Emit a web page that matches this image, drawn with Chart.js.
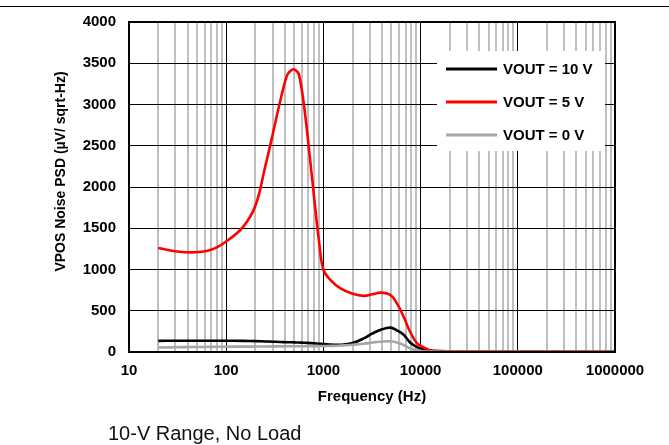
<!DOCTYPE html>
<html>
<head>
<meta charset="utf-8">
<script src="https://cdn.jsdelivr.net/npm/chart.js@4.4.1/dist/chart.umd.min.js"></script>
<style>
    body { margin: 0; background: #fff; }
    #wrap { position: relative; width: 669px; height: 445px; overflow: hidden; }
    #topLine { position: absolute; left: 0; top: 6px; width: 669px; height: 0; border-top: 1.5px solid #000; }
    #caption { position: absolute; left: 108px; top: 423px; font: 20px "Liberation Sans", Arial, sans-serif; line-height: 20px; color: #111; }
    canvas { position: absolute; left: 0; top: 0; }
</style>
</head>
<body>
<div id="wrap">
    <canvas id="noiseChart" width="669" height="445"></canvas>
    <div id="topLine"></div>
    <div id="caption">10-V Range, No Load</div>
</div>
<script>
// frequency points (Hz) and noise values
let freqs  = [20, 30, 46, 70, 100, 150, 200, 250, 300, 360, 420, 455, 490, 525, 560, 630, 730, 810, 900, 1000, 1200, 1500, 2000, 2600, 3200, 3900, 4900, 5700, 6700, 7800, 9200, 10700, 13600, 20000, 50000, 100000, 300000, 1000000];
let vout10 = [135, 136, 137, 137, 137, 135, 132, 128, 125, 122, 118, 118, 117, 116, 115, 112, 108, 105, 100, 97, 90, 87, 108, 165, 225, 270, 295, 262, 210, 115, 58, 33, 14, 7, 5, 5, 4, 4];
let vout5  = [1260, 1222, 1208, 1240, 1340, 1520, 1775, 2230, 2630, 3045, 3347, 3405, 3428, 3410, 3365, 3000, 2330, 1830, 1350, 1000, 865, 770, 705, 680, 700, 720, 690, 590, 427, 245, 105, 57, 6, 10, 8, 6, 5, 3];
let vout0  = [55, 58, 60, 62, 64, 65, 66, 67, 68, 68, 69, 69, 69, 70, 70, 70, 71, 71, 72, 72, 74, 78, 88, 100, 115, 125, 130, 115, 85, 46, 20, 8, 4, 3, 3, 3, 3, 3];

let seriesNames  = ["VOUT = 10 V", "VOUT = 5 V", "VOUT = 0 V"];
let seriesColors = ["#000000", "#ff0000", "#a6a6a6"];
let yTitle = "VPOS Noise PSD (\u00b5V/ sqrt-Hz)";
let xTitle = "Frequency (Hz)";

const FONT = '"Liberation Sans", Arial, sans-serif';

function isDecade(v) {
    let l = Math.log10(v);
    return Math.abs(l - Math.round(l)) < 1e-9;
}

function toPoints(values) {
    return values.map((v, i) => ({ x: freqs[i], y: v }));
}

// white legend box inside the plot, plus the y title and plot frame
const extras = {
    id: 'extras',
    afterDraw(chart) {
        let ctx = chart.ctx;
        let a = chart.chartArea;
        ctx.save();

        // frame
        ctx.strokeStyle = '#000';
        ctx.lineWidth = 2;
        ctx.strokeRect(a.left, a.top, a.right - a.left, a.bottom - a.top);

        // legend
        let bx = a.right - 178, by = a.top + 29;
        ctx.fillStyle = '#fff';
        ctx.fillRect(bx, by, 168, 100);
        ctx.font = 'bold 15px ' + FONT;
        ctx.textBaseline = 'middle';
        ctx.textAlign = 'left';
        for (let i = 0; i < seriesNames.length; i++) {
            let y = by + 18 + i * 33;
            ctx.strokeStyle = seriesColors[i];
            ctx.lineWidth = 3;
            ctx.beginPath();
            ctx.moveTo(bx + 9, y);
            ctx.lineTo(bx + 60, y);
            ctx.stroke();
            ctx.fillStyle = '#000';
            ctx.fillText(seriesNames[i], bx + 66, y + 1);
        }

        // y axis title
        ctx.translate(61.5, 171.5);
        ctx.rotate(-Math.PI / 2);
        ctx.textAlign = 'center';
        ctx.font = 'bold 14px ' + FONT;
        ctx.fillStyle = '#000';
        ctx.fillText(yTitle, 0, 0);
        ctx.restore();
    }
};

let ctx = document.getElementById('noiseChart').getContext('2d');
let chart = new Chart(ctx, {
    type: 'line',
    data: {
        datasets: [
            { label: seriesNames[2], data: toPoints(vout0), borderColor: seriesColors[2], order: 0 },
            { label: seriesNames[1], data: toPoints(vout5), borderColor: seriesColors[1], order: 1 },
            { label: seriesNames[0], data: toPoints(vout10), borderColor: seriesColors[0], order: 2 }
        ]
    },
    options: {
        responsive: false,
        animation: false,
        parsing: false,
        layout: { padding: { left: 0, right: 54, top: 21, bottom: 0 } },
        elements: {
            line: { borderWidth: 2.6, tension: 0.4, fill: false },
            point: { radius: 0 }
        },
        plugins: {
            legend: { display: false },
            tooltip: { enabled: false }
        },
        scales: {
            x: {
                type: 'logarithmic',
                min: 10,
                max: 1000000,
                afterBuildTicks: scale => {
                    let t = [];
                    for (let d = 10; d < 1000000; d *= 10) {
                        for (let k = 1; k <= 9; k++) t.push({ value: d * k });
                    }
                    t.push({ value: 1000000 });
                    scale.ticks = t;
                },
                afterFit: scale => { scale.height = 93; },
                ticks: {
                    autoSkip: false,
                    maxRotation: 0,
                    padding: 10,
                    color: '#000',
                    font: { family: FONT, size: 15, weight: 'bold' },
                    callback: v => isDecade(v) ? String(v) : ''
                },
                grid: {
                    drawTicks: false,
                    color: c => (c.tick && isDecade(c.tick.value)) ? '#000' : '#bfbfbf',
                    lineWidth: c => (c.tick && isDecade(c.tick.value)) ? 1 : 2
                },
                border: { color: '#000', width: 2 },
                title: {
                    display: true,
                    text: xTitle,
                    color: '#000',
                    font: { family: FONT, size: 15, weight: 'bold' },
                    padding: { top: 0, bottom: 39 }
                }
            },
            y: {
                min: 0,
                max: 4000,
                afterFit: scale => { scale.width = 129; },
                ticks: {
                    stepSize: 500,
                    padding: 13,
                    color: '#000',
                    font: { family: FONT, size: 15, weight: 'bold' },
                    callback: v => String(v)
                },
                grid: { drawTicks: false, color: '#000', lineWidth: 1 },
                border: { color: '#000', width: 2 }
            }
        }
    },
    plugins: [extras]
});
</script>
</body>
</html>
